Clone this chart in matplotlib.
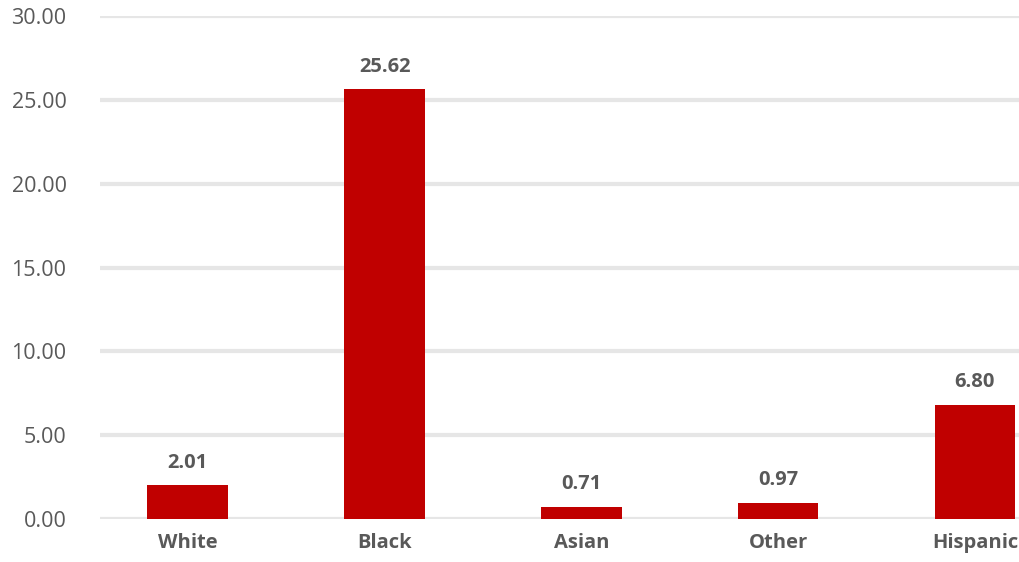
import matplotlib
matplotlib.use('Agg')
import matplotlib.pyplot as plt

categories = ['White', 'Black', 'Asian', 'Other', 'Hispanic']
values = [2.01, 25.62, 0.71, 0.97, 6.80]
yticks = [0, 5, 10, 15, 20, 25, 30]

plt.rcParams['font.family'] = ['Open Sans', 'DejaVu Sans']

fig = plt.figure(figsize=(10.19, 5.62), dpi=100)
ax = fig.add_axes([0.098, 0.0765, 0.902, 0.895])

x = list(range(len(categories)))
ax.bar(x, values, width=0.41, color='#c00000', zorder=3)

for xi, v in zip(x, values):
    ax.text(xi, v + 1.05, '%.2f' % v, ha='center', va='baseline',
            fontsize=14.5, fontweight='bold', color='#595959')

ax.set_xlim(-0.447, 4.224)
ax.set_ylim(0, 30)
ax.set_yticks(yticks)
ax.set_yticklabels(['%.2f' % t for t in yticks])
ax.set_xticks(x)
ax.set_xticklabels(categories, fontweight='bold')
ax.tick_params(axis='y', length=0, labelsize=15.5, labelcolor='#595959', pad=24)
ax.tick_params(axis='x', length=0, labelsize=14.5, labelcolor='#595959', pad=10)

ax.grid(axis='y', color='#e6e6e6', linewidth=3, zorder=0)
for s in ax.spines.values():
    s.set_visible(False)

fig.savefig('out.png', dpi=100)
